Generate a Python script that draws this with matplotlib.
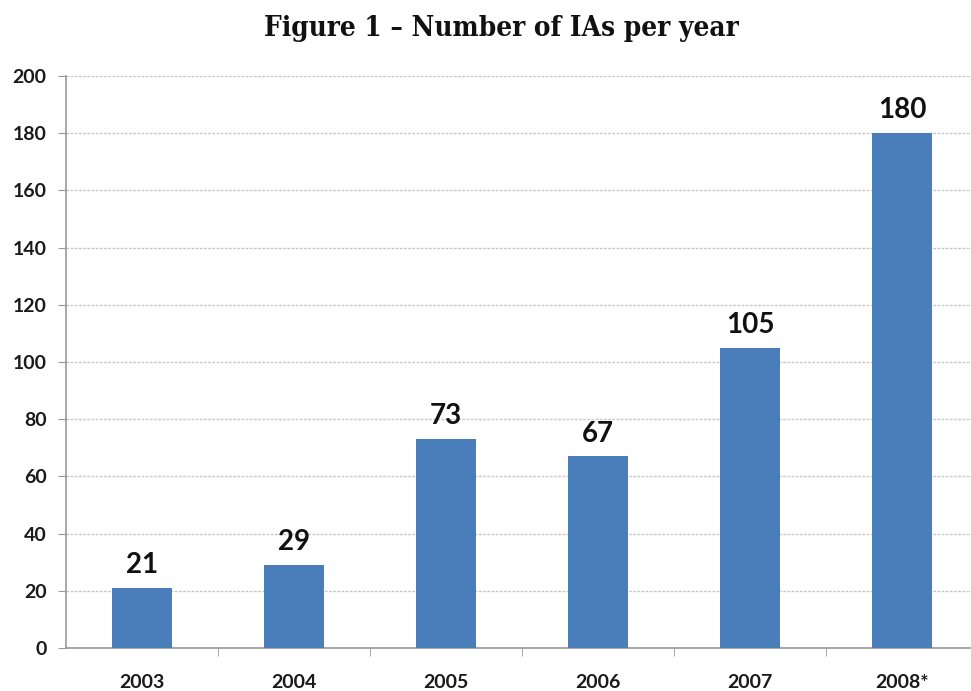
import matplotlib.pyplot as plt
from matplotlib.ticker import FixedLocator

years = ["2003", "2004", "2005", "2006", "2007", "2008*"]
ias_count = [21, 29, 73, 67, 105, 180]
y_ticks = [0, 20, 40, 60, 80, 100, 120, 140, 160, 180, 200]

bar_color = "#4a7ebb"
label_font = "Lato"

fig = plt.figure(figsize=(9.71, 6.91), dpi=100)
ax = fig.add_axes([66 / 971, 43 / 691, 912 / 971, 572 / 691])

x = list(range(len(years)))
ax.bar(x, ias_count, width=0.4, color=bar_color, zorder=3)

for xi, v in zip(x, ias_count):
    ax.annotate(str(v), (xi, v), xytext=(0, 7), textcoords="offset points",
                ha="center", va="bottom", fontsize=20, fontweight="bold",
                family=label_font, color="#111111")

ax.set_xlim(-0.5, len(years) - 0.5)
ax.set_ylim(0, 200)
ax.set_yticks(y_ticks)
ax.set_yticklabels([str(t) for t in y_ticks], fontsize=14, fontweight="bold",
                   family=label_font, color="#1a1a1a")
ax.set_xticks(x)
ax.set_xticklabels(years, fontsize=14, fontweight="bold",
                   family=label_font, color="#1a1a1a")
ax.tick_params(axis="x", which="major", length=0, pad=19)
ax.xaxis.set_minor_locator(FixedLocator([i + 0.5 for i in range(len(years) - 1)]))
ax.tick_params(axis="x", which="minor", length=6, color="#999999", direction="out")
ax.tick_params(axis="y", length=6, color="#999999", pad=8, direction="out")

ax.yaxis.grid(True, color="#c8c8c8", linestyle=(0, (2, 1)), linewidth=1, zorder=0)
for side in ("top", "right"):
    ax.spines[side].set_visible(False)
for side in ("left", "bottom"):
    ax.spines[side].set_color("#999999")
    ax.spines[side].set_linewidth(1.2)

fig.text(501 / 971, 1 - 28 / 691, "Figure 1 \u2013 Number of IAs per year",
         ha="center", va="center", fontsize=20, fontweight="bold",
         family="DejaVu Serif", fontstretch="condensed", color="#111111")

fig.savefig("out.png", dpi=100)
